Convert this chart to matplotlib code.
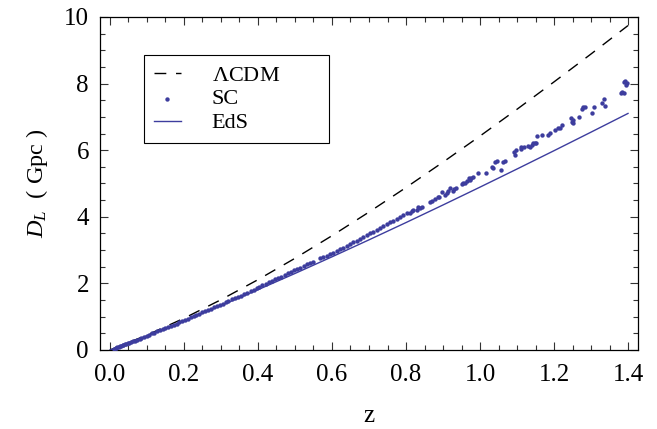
import numpy as np
import matplotlib
matplotlib.use("Agg")
import matplotlib.pyplot as plt
from matplotlib.ticker import MultipleLocator, FormatStrFormatter

# Police serif (style Times) pour tout le graphique
plt.rcParams['font.family'] = ['Liberation Serif', 'DejaVu Serif']
plt.rcParams['mathtext.fontset'] = 'custom'
plt.rcParams['mathtext.rm'] = 'Liberation Serif'
plt.rcParams['mathtext.it'] = 'Liberation Serif:italic'

# Courbes (z, D_L en Gpc)
z_curve = [0.0, 0.1, 0.2, 0.3, 0.4, 0.5, 0.6, 0.7, 0.8, 0.9, 1.0, 1.1, 1.2, 1.3, 1.4]
d_lcdm = [0.0, 0.448, 0.953, 1.510, 2.112, 2.754, 3.432, 4.142, 4.879, 5.641,
          6.425, 7.229, 8.051, 8.889, 9.743]
d_eds = [0.0, 0.427, 0.873, 1.335, 1.810, 2.298, 2.798, 3.308, 3.827, 4.355,
         4.891, 5.435, 5.985, 6.542, 7.104]

# Points SC
sc_z = [0.010, 0.015, 0.016, 0.020, 0.024, 0.026, 0.030, 0.034, 0.036, 0.040,
        0.043, 0.050, 0.052, 0.057, 0.063, 0.067, 0.072, 0.080, 0.085, 0.091,
        0.100, 0.106, 0.114, 0.120, 0.127, 0.135, 0.143, 0.150, 0.158, 0.166,
        0.172, 0.180, 0.187, 0.194, 0.203, 0.210, 0.218, 0.226, 0.233, 0.241,
        0.250, 0.258, 0.265, 0.273, 0.281, 0.290, 0.297, 0.305, 0.313, 0.320,
        0.330, 0.338, 0.345, 0.354, 0.362, 0.370, 0.380,
        0.388, 0.396, 0.404, 0.412, 0.421, 0.430, 0.438, 0.447, 0.455, 0.463,
        0.472, 0.480, 0.489, 0.497, 0.505, 0.514, 0.523, 0.532, 0.541, 0.548,
        0.568, 0.576, 0.586, 0.595, 0.604, 0.613, 0.622, 0.631, 0.640, 0.649,
        0.658, 0.667, 0.676, 0.685, 0.694, 0.703, 0.712, 0.721, 0.730, 0.739,
        0.748, 0.757, 0.766, 0.775,
        0.784, 0.793, 0.802, 0.811, 0.815, 0.820, 0.829, 0.833, 0.838, 0.842,
        0.865, 0.869, 0.878, 0.887, 0.890, 0.896, 0.905, 0.910, 0.914, 0.919,
        0.926, 0.930, 0.935, 0.950, 0.955, 0.959, 0.966, 0.969, 0.973, 0.977,
        0.982, 0.995, 1.016, 1.032, 1.036, 1.041, 1.045, 1.056, 1.063, 1.068,
        1.092, 1.095, 1.097, 1.110, 1.112, 1.119, 1.131, 1.135, 1.140, 1.144,
        1.149, 1.151, 1.155, 1.167, 1.185, 1.189, 1.203, 1.212, 1.216, 1.221,
        1.245, 1.248, 1.251, 1.252, 1.268, 1.275, 1.279, 1.284, 1.304, 1.308,
        1.329, 1.336, 1.338, 1.380, 1.384, 1.389, 1.389, 1.393, 1.396, 1.395]
sc_d = [0.043, 0.062, 0.069, 0.084, 0.103, 0.108, 0.128, 0.142, 0.155, 0.169,
        0.185, 0.211, 0.224, 0.241, 0.271, 0.285, 0.311, 0.342, 0.368, 0.390,
        0.435, 0.457, 0.497, 0.518, 0.556, 0.586, 0.628, 0.654, 0.697, 0.727,
        0.762, 0.792, 0.830, 0.857, 0.905, 0.931, 0.977, 1.008, 1.048, 1.079,
        1.128, 1.160, 1.201, 1.232, 1.279, 1.315, 1.357, 1.389, 1.436, 1.463,
        1.521, 1.553, 1.596, 1.633, 1.682, 1.714, 1.772,
        1.81, 1.86, 1.90, 1.94, 1.98, 2.03, 2.07, 2.12, 2.16, 2.20,
        2.25, 2.30, 2.34, 2.39, 2.42, 2.47, 2.52, 2.57, 2.61, 2.65,
        2.75, 2.79, 2.83, 2.88, 2.92, 2.97, 3.02, 3.07, 3.12, 3.17,
        3.23, 3.28, 3.34, 3.40, 3.45, 3.50, 3.55, 3.60, 3.66, 3.71,
        3.77, 3.83, 3.88, 3.94,
        4.00, 4.05, 4.10, 4.12, 4.17, 4.20, 4.21, 4.28, 4.25, 4.30,
        4.45, 4.47, 4.52, 4.58, 4.60, 4.75, 4.65, 4.72, 4.78, 4.86,
        4.78, 4.82, 4.86, 4.97, 5.02, 5.00, 5.09, 5.16, 5.12, 5.17,
        5.19, 5.31, 5.33, 5.50, 5.48, 5.65, 5.68, 5.41, 5.65, 5.68,
        5.95, 5.86, 6.00, 6.03, 6.09, 6.09, 6.14, 6.11, 6.16, 6.21,
        6.21, 6.23, 6.43, 6.46, 6.46, 6.53, 6.61, 6.66, 6.68, 6.76,
        6.96, 6.86, 6.81, 6.91, 7.01, 7.23, 7.29, 7.29, 7.13, 7.29,
        7.43, 7.53, 7.33, 7.73, 7.76, 7.73, 8.06, 8.09, 8.01, 7.96]

x_ticks = [0.0, 0.2, 0.4, 0.6, 0.8, 1.0, 1.2, 1.4]
y_ticks = [0, 2, 4, 6, 8, 10]

bleu = '#3d3d9e'

fig = plt.figure(figsize=(6.57, 4.29), dpi=100)
ax = fig.add_axes([100 / 657, 1 - 350 / 429, 538 / 657, 333 / 429])

ax.plot(z_curve, d_lcdm, color='black', lw=1.0, dashes=(8.5, 7), label=r'$\Lambda$CDM')
ax.scatter(sc_z, sc_d, s=10, color=bleu, linewidths=0, label='SC', zorder=3)
ax.plot(z_curve, d_eds, color=bleu, lw=1.0, label='EdS')

ax.set_xlim(-0.027, 1.427)
ax.set_ylim(0, 10)
ax.set_xticks(x_ticks)
ax.set_yticks(y_ticks)
ax.xaxis.set_major_formatter(FormatStrFormatter('%.1f'))
ax.xaxis.set_minor_locator(MultipleLocator(0.05))
ax.yaxis.set_minor_locator(MultipleLocator(0.5))
ax.tick_params(which='both', direction='in', top=True, right=True, width=0.8,
               labelsize=18, color='#333333')
ax.tick_params(which='major', length=6)
ax.tick_params(which='minor', length=3.5)
ax.tick_params(axis='x', pad=10)
ax.tick_params(axis='y', pad=8)
for s in ax.spines.values():
    s.set_linewidth(0.9)

ax.set_xlabel('z', fontsize=18, labelpad=14)
ax.set_ylabel(r'$D_L$  ( Gpc )', fontsize=17.5, labelpad=10)

leg = ax.legend(loc='upper left', bbox_to_anchor=(44 / 538, 201 / 333, 185 / 538, 94 / 333),
                mode='expand', borderaxespad=0, fontsize=16, frameon=True, fancybox=False,
                edgecolor='black', framealpha=1, scatterpoints=1, handlelength=1.2,
                handletextpad=1.4, labelspacing=0.15, borderpad=0.45)
leg.get_frame().set_linewidth(0.8)

fig.savefig('out.png', dpi=100)
